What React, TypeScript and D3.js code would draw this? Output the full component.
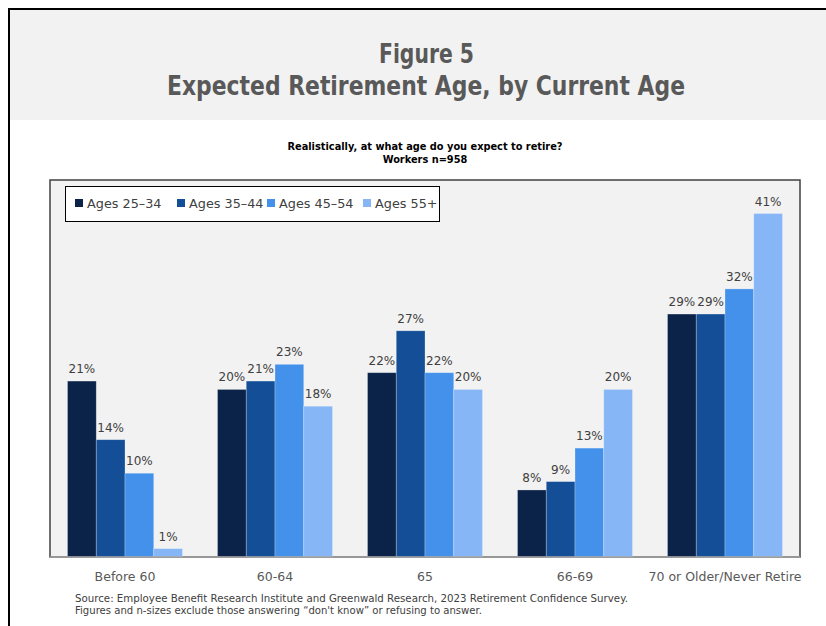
import React from 'react';
import * as d3 from 'd3';

const categories = ['Before 60', '60-64', '65', '66-69', '70 or Older/Never Retire'];
const seriesNames = ['Ages 25–34', 'Ages 35–44', 'Ages 45–54', 'Ages 55+'];
const ages25to34 = [21, 20, 22, 8, 29];
const ages35to44 = [14, 21, 27, 9, 29];
const ages45to54 = [10, 23, 22, 13, 32];
const ages55plus = [1, 18, 20, 20, 41];
const seriesValues = [ages25to34, ages35to44, ages45to54, ages55plus];
const colors = ['#0b2349', '#134e96', '#4391ea', '#86b6f5'];

const W = 826;
const H = 626;
const plot = { left: 50, right: 800, top: 180, bottom: 557 };
const font = '"DejaVu Sans", "Noto Sans", sans-serif';

const App: React.FC = () => {
  const x0 = d3.scaleBand<string>()
    .domain(categories)
    .range([plot.left, plot.right])
    .paddingInner(0.2333)
    .paddingOuter(0.11665);

  const x1 = d3.scaleBand<string>()
    .domain(seriesNames)
    .range([0, x0.bandwidth()]);

  const y = d3.scaleLinear().domain([0, 45]).range([plot.bottom, plot.top]);

  const legendX = [75, 177, 267, 363];

  return (
    <svg width={W} height={H} style={{ position: 'absolute', left: 0, top: 0 }}>
      <rect x={0} y={0} width={W} height={H} fill="#ffffff" />
      {/* header band */}
      <rect x={9} y={9} width={W} height={111} fill="#f2f2f2" />
      <rect x={9} y={9} width={W + 10} height={H + 10} fill="none" stroke="#000" strokeWidth={2} />

      <text x={426.5} y={63} textAnchor="middle" fontFamily={font} fontWeight="bold" fontSize={26} fill="#595959"
        textLength={95} lengthAdjust="spacingAndGlyphs">
        Figure 5
      </text>
      <text x={426} y={95} textAnchor="middle" fontFamily={font} fontWeight="bold" fontSize={26} fill="#595959"
        textLength={518} lengthAdjust="spacingAndGlyphs">
        Expected Retirement Age, by Current Age
      </text>

      <text x={425} y={150} textAnchor="middle" fontFamily={font} fontWeight="bold" fontSize={9.8} fill="#000">
        Realistically, at what age do you expect to retire?
      </text>
      <text x={425} y={163} textAnchor="middle" fontFamily={font} fontWeight="bold" fontSize={9.8} fill="#000">
        Workers n=958
      </text>

      {/* plot area */}
      <rect x={plot.left} y={plot.top} width={plot.right - plot.left} height={plot.bottom - plot.top}
        fill="#f2f2f2" stroke="#404040" strokeWidth={1.5} />

      {categories.map((c, ci) => (
        <g key={c} transform={`translate(${x0(c)},0)`}>
          {seriesNames.map((s, si) => {
            const v = seriesValues[si][ci];
            const bx = x1(s) as number;
            return (
              <g key={s}>
                <rect x={bx} y={y(v)} width={x1.bandwidth()} height={plot.bottom - y(v)}
                  fill={colors[si]} stroke="#ffffff" strokeOpacity={0.35} strokeWidth={0.75} />
                <text x={bx + x1.bandwidth() / 2} y={y(v) - 8} textAnchor="middle"
                  fontFamily={font} fontSize={12} fill="#404040">
                  {v}%
                </text>
              </g>
            );
          })}
          <text x={x0.bandwidth() / 2} y={581} textAnchor="middle" fontFamily={font} fontSize={12.5} fill="#595959">
            {c}
          </text>
        </g>
      ))}

      <line x1={plot.left} x2={plot.right} y1={plot.bottom} y2={plot.bottom} stroke="#a6a6a6" strokeWidth={1.5} />

      {/* legend */}
      <rect x={65.5} y={186.5} width={374} height={35} fill="#ffffff" stroke="#000" strokeWidth={1} />
      {seriesNames.map((s, si) => (
        <g key={s}>
          <rect x={legendX[si]} y={199} width={8} height={8} fill={colors[si]} />
          <text x={legendX[si] + 12} y={208} fontFamily={font} fontSize={12.8} fill="#404040">
            {s}
          </text>
        </g>
      ))}

      <text x={75} y={602} fontFamily={font} fontSize={10} fill="#404040"
        textLength={553} lengthAdjust="spacingAndGlyphs">
        Source:  Employee Benefit Research Institute and Greenwald Research, 2023 Retirement Confidence Survey.
      </text>
      <text x={75} y={614} fontFamily={font} fontSize={10} fill="#404040"
        textLength={407} lengthAdjust="spacingAndGlyphs">
        Figures and n-sizes exclude those answering “don't know” or refusing to answer.
      </text>
    </svg>
  );
};

export default App;
